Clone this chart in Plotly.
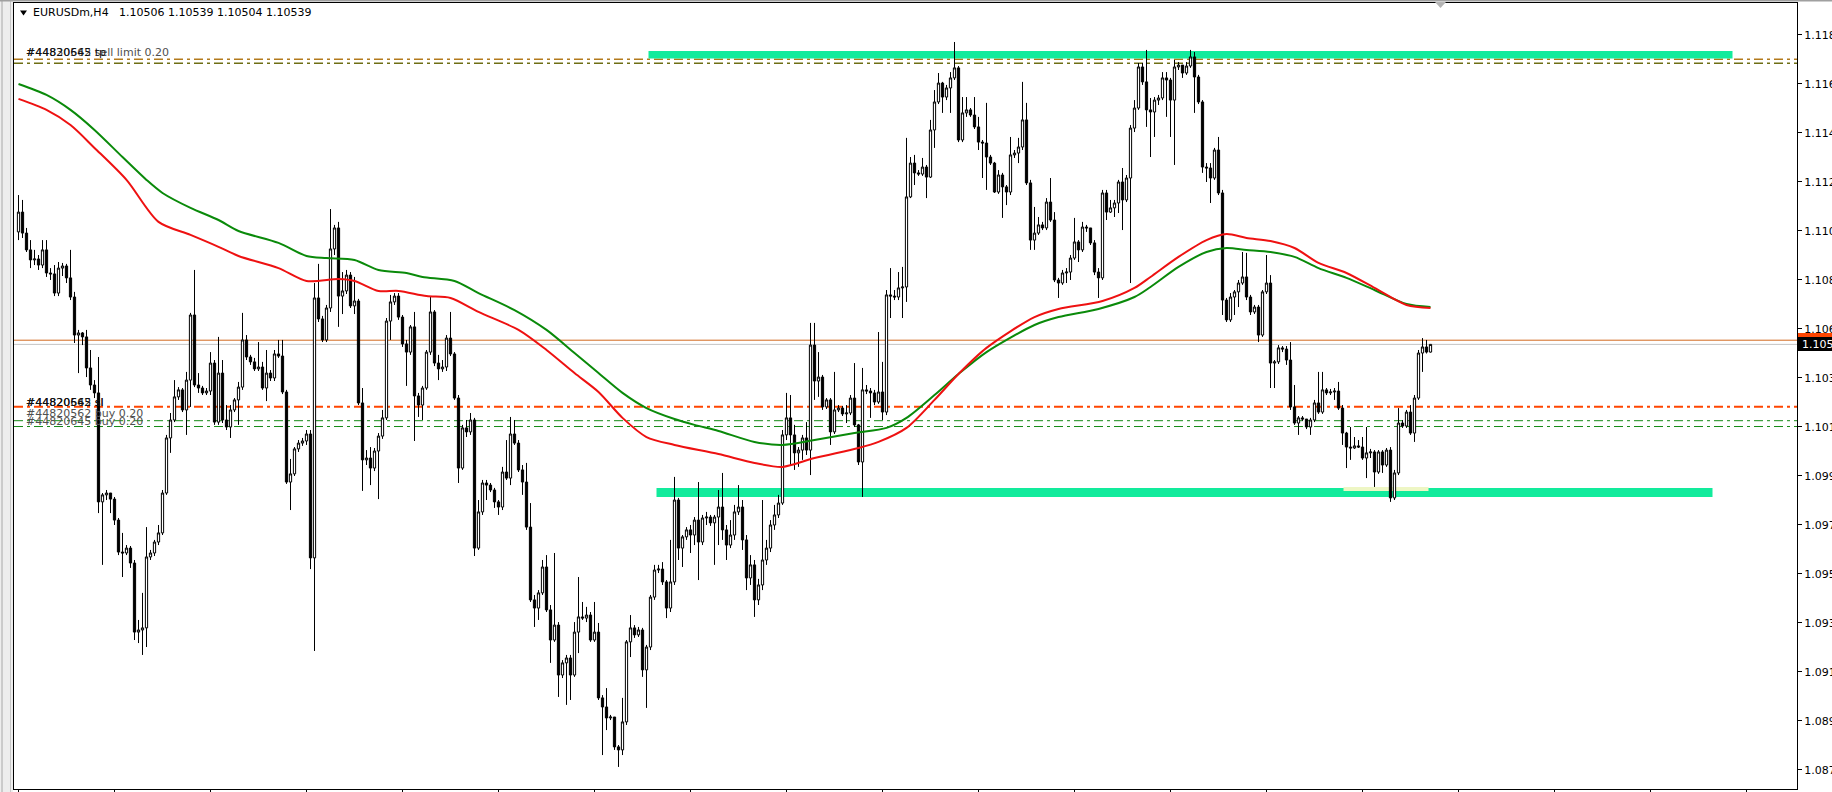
import plotly.graph_objects as go

# ---------------- data ----------------
symbol_title = "EURUSDm,H4"
last_ohlc = ["1.10506", "1.10539", "1.10504", "1.10539"]

first_open = 1.11021
closes = [
1.11106, 1.11016, 1.10944, 1.10901, 1.10905, 1.10879, 1.10944, 1.10845, 1.10841, 1.10759,
1.10866, 1.10875, 1.10824, 1.10742, 1.10579, 1.10588, 1.10571, 1.10438, 1.10365, 1.10331,
1.09864, 1.09894, 1.09902, 1.09876, 1.09786, 1.09649, 1.09645, 1.09666, 1.09602, 1.09306,
1.09315, 1.09324, 1.09628, 1.09645, 1.09692, 1.09731, 1.09902, 1.10138, 1.10215, 1.10314,
1.10344, 1.10258, 1.10386, 1.10665, 1.10365, 1.10352, 1.10331, 1.10339, 1.10459, 1.10206,
1.10416, 1.10215, 1.10185, 1.10258, 1.10301, 1.10356, 1.10558, 1.10485, 1.10464, 1.10434,
1.10442, 1.10352, 1.10416, 1.10395, 1.10498, 1.10489, 1.10335, 1.09949, 1.09984, 1.10091,
1.10116, 1.10125, 1.10155, 1.09624, 1.10738, 1.10648, 1.10558, 1.10695, 1.10948, 1.11038,
1.10746, 1.10768, 1.10836, 1.10704, 1.10725, 1.10288, 1.10044, 1.10052, 1.10009, 1.10082,
1.10146, 1.10224, 1.10639, 1.10721, 1.10746, 1.10656, 1.10541, 1.10506, 1.10614, 1.10318,
1.10279, 1.10352, 1.10506, 1.10678, 1.10459, 1.10434, 1.10442, 1.10566, 1.10498, 1.10309,
1.10009, 1.10181, 1.10164, 1.10215, 1.09666, 1.09821, 1.09945, 1.09936, 1.09915, 1.09864,
1.09842, 1.09992, 1.09966, 1.10155, 1.10116, 1.10001, 1.09949, 1.09756, 1.09444, 1.09409,
1.09474, 1.09585, 1.09401, 1.09272, 1.09336, 1.09122, 1.09174, 1.09195, 1.09122, 1.09306,
1.09371, 1.09366, 1.09379, 1.09272, 1.09306, 1.09024, 1.08985, 1.08938, 1.08942, 1.08814,
1.08801, 1.08921, 1.09264, 1.09324, 1.09294, 1.09315, 1.09144, 1.09242, 1.09456, 1.09572,
1.09576, 1.09521, 1.09409, 1.09521, 1.09872, 1.09666, 1.09714, 1.09744, 1.09722, 1.09786,
1.09692, 1.09795, 1.09799, 1.09774, 1.09799, 1.09842, 1.09744, 1.09679, 1.09722, 1.09821,
1.09842, 1.09701, 1.09538, 1.09594, 1.09444, 1.09508, 1.09615, 1.09666, 1.09765, 1.09808,
1.09859, 1.10151, 1.10224, 1.10151, 1.10074, 1.10086, 1.10138, 1.10086, 1.10536, 1.10382,
1.10399, 1.10271, 1.10301, 1.10164, 1.10258, 1.10266, 1.10241, 1.10245, 1.10309, 1.10194,
1.10035, 1.10344, 1.10339, 1.10331, 1.10292, 1.10335, 1.10249, 1.10751, 1.10746, 1.10742,
1.10781, 1.10785, 1.11171, 1.11316, 1.11274, 1.11269, 1.11299, 1.11256, 1.11458, 1.11578,
1.11659, 1.11599, 1.11638, 1.11681, 1.11724, 1.11415, 1.11531, 1.11544, 1.11522, 1.11471,
1.11406, 1.11402, 1.11342, 1.11316, 1.11192, 1.11265, 1.11214, 1.11192, 1.11351, 1.11359,
1.11385, 1.11501, 1.11231, 1.10986, 1.11016, 1.11051, 1.11038, 1.11149, 1.11072, 1.10815,
1.10802, 1.10845, 1.10849, 1.10909, 1.10978, 1.10944, 1.11042, 1.11038, 1.10974, 1.10849,
1.10824, 1.11188, 1.11106, 1.11124, 1.11145, 1.11235, 1.11158, 1.11252, 1.11466, 1.11552,
1.11728, 1.11664, 1.11544, 1.11535, 1.11586, 1.11595, 1.11681, 1.11672, 1.11586, 1.11728,
1.11736, 1.11702, 1.11732, 1.11771, 1.11685, 1.11578, 1.11299, 1.11295, 1.11252, 1.11372,
1.11188, 1.10729, 1.10644, 1.10742, 1.10764, 1.10802, 1.10828, 1.10742, 1.10678, 1.10699,
1.10579, 1.10764, 1.10802, 1.10459, 1.10464, 1.10524, 1.10519, 1.10472, 1.10271, 1.10202,
1.10224, 1.10219, 1.10185, 1.10215, 1.10288, 1.10249, 1.10344, 1.10331, 1.10335, 1.10339,
1.10266, 1.10159, 1.10099, 1.10095, 1.10104, 1.10099, 1.10052, 1.10074, 1.10078, 1.09992,
1.10078, 1.10022, 1.10086, 1.09881, 1.09988, 1.10202, 1.10189, 1.10249, 1.10159, 1.10309,
1.10502, 1.10528, 1.10506, 1.10539]
highs = [
1.11179, 1.11158, 1.11038, 1.10986, 1.10944, 1.10922, 1.10986, 1.10986, 1.10866, 1.10879,
1.10892, 1.10888, 1.10884, 1.10944, 1.10764, 1.10601, 1.10592, 1.10601, 1.10515, 1.10386,
1.10485, 1.09902, 1.09915, 1.09902, 1.09885, 1.09795, 1.09731, 1.09679, 1.09675, 1.09615,
1.09358, 1.09474, 1.09756, 1.09658, 1.09701, 1.09765, 1.09915, 1.10151, 1.10245, 1.10386,
1.10356, 1.10352, 1.10421, 1.10674, 1.10858, 1.10416, 1.10361, 1.10352, 1.10506, 1.10472,
1.10571, 1.10472, 1.10279, 1.10279, 1.10309, 1.10378, 1.10674, 1.10579, 1.10494, 1.10481,
1.10549, 1.10464, 1.10515, 1.10429, 1.10515, 1.10558, 1.10558, 1.10344, 1.10048, 1.10099,
1.10129, 1.10138, 1.10172, 1.10172, 1.10802, 1.10884, 1.10661, 1.10708, 1.11119, 1.11051,
1.11064, 1.10849, 1.10858, 1.10849, 1.10828, 1.10734, 1.10352, 1.10086, 1.10099, 1.10095,
1.10159, 1.10258, 1.10652, 1.10751, 1.10759, 1.10759, 1.10665, 1.10558, 1.10622, 1.10678,
1.10331, 1.10361, 1.10515, 1.10746, 1.10686, 1.10494, 1.10472, 1.10579, 1.10678, 1.10506,
1.10322, 1.10194, 1.10215, 1.10245, 1.10224, 1.09872, 1.09958, 1.09958, 1.09945, 1.09924,
1.09872, 1.10014, 1.10129, 1.10228, 1.10215, 1.10129, 1.10022, 1.10031, 1.09859, 1.09465,
1.09486, 1.09615, 1.09636, 1.09422, 1.09645, 1.09349, 1.09186, 1.09208, 1.09208, 1.09349,
1.09542, 1.09435, 1.09414, 1.09392, 1.09435, 1.09345, 1.09036, 1.09066, 1.08951, 1.08942,
1.08822, 1.09024, 1.09272, 1.09379, 1.09336, 1.09328, 1.09324, 1.09251, 1.09465, 1.09594,
1.09594, 1.09606, 1.09529, 1.09701, 1.09971, 1.09881, 1.09722, 1.09756, 1.09765, 1.09799,
1.09949, 1.09808, 1.09821, 1.09808, 1.09808, 1.09915, 1.09988, 1.09765, 1.09786, 1.09851,
1.09936, 1.09872, 1.09722, 1.09636, 1.09615, 1.09534, 1.09872, 1.09701, 1.09786, 1.09851,
1.09894, 1.10172, 1.10331, 1.10322, 1.10194, 1.10099, 1.10151, 1.10206, 1.10631, 1.10631,
1.10506, 1.10408, 1.10309, 1.10309, 1.10421, 1.10279, 1.10275, 1.10279, 1.10322, 1.10459,
1.10198, 1.10438, 1.10365, 1.10352, 1.10344, 1.10592, 1.10464, 1.10772, 1.10866, 1.10772,
1.10849, 1.10871, 1.11424, 1.11342, 1.11351, 1.11286, 1.11338, 1.11308, 1.11501, 1.11629,
1.11702, 1.11664, 1.11651, 1.11706, 1.11835, 1.11732, 1.11599, 1.11599, 1.11552, 1.11599,
1.11514, 1.11415, 1.11574, 1.11351, 1.11321, 1.11286, 1.11274, 1.11222, 1.11428, 1.11372,
1.11424, 1.11664, 1.11574, 1.11244, 1.11128, 1.11085, 1.11064, 1.11166, 1.11252, 1.11106,
1.10824, 1.10858, 1.10866, 1.10922, 1.11081, 1.10986, 1.11064, 1.11051, 1.11038, 1.10986,
1.10866, 1.11201, 1.11201, 1.11158, 1.11158, 1.11244, 1.11295, 1.11265, 1.11479, 1.11586,
1.11745, 1.11745, 1.11801, 1.11595, 1.11599, 1.11608, 1.11706, 1.11706, 1.11681, 1.11758,
1.11749, 1.11715, 1.11749, 1.11801, 1.11792, 1.11694, 1.11586, 1.11316, 1.11316, 1.11381,
1.11428, 1.11201, 1.10738, 1.10759, 1.10772, 1.10815, 1.10935, 1.10931, 1.10751, 1.10708,
1.10708, 1.10772, 1.10922, 1.10836, 1.10472, 1.10536, 1.10532, 1.10532, 1.10549, 1.10365,
1.10232, 1.10232, 1.10215, 1.10224, 1.10301, 1.10421, 1.10421, 1.10352, 1.10348, 1.10352,
1.10378, 1.10279, 1.10164, 1.10185, 1.10142, 1.10129, 1.10142, 1.10185, 1.10091, 1.10086,
1.10086, 1.10086, 1.10095, 1.10099, 1.10001, 1.10266, 1.10215, 1.10258, 1.10279, 1.10322,
1.10515, 1.10566, 1.10558, 1.10539]
lows = [
1.10986, 1.10995, 1.10935, 1.10866, 1.10879, 1.10858, 1.10866, 1.10828, 1.10815, 1.10746,
1.10746, 1.10832, 1.10802, 1.10729, 1.10545, 1.10416, 1.10536, 1.10399, 1.10344, 1.10309,
1.09816, 1.09594, 1.09872, 1.09816, 1.09765, 1.09636, 1.09542, 1.09636, 1.09581, 1.09272,
1.09259, 1.09208, 1.09242, 1.09615, 1.09632, 1.09679, 1.09722, 1.09894, 1.10074, 1.10206,
1.10301, 1.10249, 1.10151, 1.10271, 1.10356, 1.10331, 1.10322, 1.10322, 1.10322, 1.10194,
1.10194, 1.10202, 1.10172, 1.10138, 1.10249, 1.10194, 1.10344, 1.10472, 1.10451, 1.10425,
1.10425, 1.10344, 1.10296, 1.10382, 1.10382, 1.10481, 1.10326, 1.09941, 1.09829, 1.09975,
1.10078, 1.10104, 1.10108, 1.09576, 1.09225, 1.10635, 1.10549, 1.10549, 1.10678, 1.10922,
1.10614, 1.10669, 1.10755, 1.10695, 1.10669, 1.10279, 1.09911, 1.10022, 1.09936, 1.09996,
1.09876, 1.10134, 1.10215, 1.10558, 1.10708, 1.10644, 1.10528, 1.10361, 1.10494, 1.10125,
1.10228, 1.10215, 1.10344, 1.10494, 1.10446, 1.10386, 1.10421, 1.10425, 1.10489, 1.10301,
1.09945, 1.10001, 1.10142, 1.10151, 1.09632, 1.09658, 1.09808, 1.09872, 1.09906, 1.09838,
1.09808, 1.09829, 1.09958, 1.09936, 1.10108, 1.09992, 1.09894, 1.09744, 1.09435, 1.09328,
1.09358, 1.09465, 1.09392, 1.09174, 1.09264, 1.09028, 1.09109, 1.08994, 1.09015, 1.09114,
1.09216, 1.09358, 1.09349, 1.09264, 1.09264, 1.09015, 1.08779, 1.08886, 1.08929, 1.08801,
1.08728, 1.08779, 1.08908, 1.09199, 1.09281, 1.09285, 1.09114, 1.08981, 1.09229, 1.09444,
1.09559, 1.09508, 1.09366, 1.09392, 1.09508, 1.09615, 1.09585, 1.09701, 1.09645, 1.09679,
1.09529, 1.09679, 1.09765, 1.09761, 1.09594, 1.09679, 1.09701, 1.09615, 1.09666, 1.09701,
1.09808, 1.09658, 1.09486, 1.09508, 1.09371, 1.09422, 1.09486, 1.09594, 1.09649, 1.09744,
1.09795, 1.09851, 1.10129, 1.10022, 1.10001, 1.10014, 1.10044, 1.10065, 1.09979, 1.10301,
1.10314, 1.10258, 1.10262, 1.10108, 1.10155, 1.10249, 1.10232, 1.10202, 1.10236, 1.10185,
1.10022, 1.09885, 1.10326, 1.10224, 1.10279, 1.10284, 1.10215, 1.10236, 1.10652, 1.10729,
1.10729, 1.10652, 1.10721, 1.11166, 1.11222, 1.11261, 1.11261, 1.11166, 1.11252, 1.11381,
1.11569, 1.11531, 1.11586, 1.11531, 1.11672, 1.11406, 1.11406, 1.11514, 1.11514, 1.11462,
1.11372, 1.11252, 1.11201, 1.11308, 1.11188, 1.11184, 1.11081, 1.11136, 1.11179, 1.11338,
1.11316, 1.11372, 1.11222, 1.10944, 1.10944, 1.11008, 1.11029, 1.11029, 1.11064, 1.10806,
1.10738, 1.10794, 1.10802, 1.10815, 1.10901, 1.10892, 1.10935, 1.11021, 1.10965, 1.10836,
1.10738, 1.10815, 1.11072, 1.11102, 1.11085, 1.11102, 1.11029, 1.11149, 1.10802, 1.11449,
1.11544, 1.11651, 1.11471, 1.11342, 1.11428, 1.11565, 1.11586, 1.11514, 1.11428, 1.11308,
1.11715, 1.11681, 1.11694, 1.11724, 1.11531, 1.11569, 1.11274, 1.11235, 1.11145, 1.11244,
1.11179, 1.10665, 1.10635, 1.10635, 1.10665, 1.10699, 1.10794, 1.10729, 1.10665, 1.10669,
1.10549, 1.10571, 1.10755, 1.10352, 1.10352, 1.10455, 1.10506, 1.10451, 1.10258, 1.10194,
1.10151, 1.10211, 1.10176, 1.10151, 1.10206, 1.10241, 1.10241, 1.10322, 1.10322, 1.10301,
1.10258, 1.10108, 1.10009, 1.10044, 1.10091, 1.10095, 1.10044, 1.09966, 1.10052, 1.09928,
1.09984, 1.09988, 1.10014, 1.09864, 1.09872, 1.09979, 1.10181, 1.10181, 1.10151, 1.10121,
1.10301, 1.10421, 1.10500, 1.10504]

# moving averages (red and green), read at sample bars
ma_red_bar = [0, 7, 13, 19, 27, 35, 43, 50, 55, 65, 72, 80, 84, 90, 95, 102, 108, 115, 125, 132,
              139, 145, 151, 157, 164, 175, 184, 191, 199, 210, 215, 222, 229, 235, 242, 254, 260,
              271, 279, 283, 290, 297, 302, 307, 313, 319, 325, 332, 339, 347, 353]
ma_red = [1.11591, 1.11544, 1.11479, 1.11381, 1.11244, 1.11064, 1.11008, 1.10957, 1.10918, 1.10866,
          1.10811, 1.10819, 1.10811, 1.10768, 1.10768, 1.10746, 1.10738, 1.10678, 1.10601, 1.10515,
          1.10416, 1.10335, 1.10224, 1.10142, 1.10108, 1.10069, 1.10031, 1.10014, 1.10052, 1.10095,
          1.10121, 1.10181, 1.10301, 1.10412, 1.10524, 1.10656, 1.10691, 1.10725, 1.10781, 1.10828,
          1.10914, 1.10986, 1.11012, 1.10995, 1.10982, 1.10952, 1.10888, 1.10845, 1.10781, 1.10708,
          1.10695]
ma_green_bar = [0, 7, 13, 19, 26, 32, 36, 43, 50, 55, 65, 72, 77, 84, 90, 97, 101, 109, 115, 124, 132,
                139, 145, 151, 157, 164, 169, 175, 184, 191, 199, 209, 217, 222, 229, 235, 242, 254,
                260, 270, 279, 283, 290, 297, 302, 307, 313, 319, 325, 332, 339, 347, 353]
ma_green = [1.11655, 1.11608, 1.11544, 1.11458, 1.11342, 1.11244, 1.11188, 1.11124, 1.11072, 1.11025,
            1.10974, 1.10918, 1.10909, 1.10901, 1.10858, 1.10845, 1.10828, 1.10811, 1.10759, 1.10686,
            1.10601, 1.10502, 1.10416, 1.10331, 1.10266, 1.10219, 1.10194, 1.10168, 1.10121, 1.10108,
            1.10129, 1.10159, 1.10181, 1.10224, 1.10322, 1.10412, 1.10506, 1.10622, 1.10656, 1.10691,
            1.10742, 1.10785, 1.10871, 1.10935, 1.10952, 1.10944, 1.10935, 1.10914, 1.10866, 1.10824,
            1.10772, 1.10712, 1.10699]

price_ticks = [1.11865, 1.11655, 1.11445, 1.11235, 1.11025, 1.10815, 1.10605, 1.10395,
               1.10185, 1.09975, 1.09765, 1.09555, 1.09345, 1.09135, 1.08925, 1.08715]
time_tick_bars = [0, 24, 48, 72, 96, 120, 144, 168, 192, 216, 240, 264, 288, 312, 336, 360, 384, 408, 432]

# zones (rectangles) and order lines
upper_zone_bars, upper_zone = (157.5, 428.5), (1.11764, 1.11796)
lower_zone_bars, lower_zone = (159.5, 423.5), (1.09885, 1.09924)
touch_zone_bars, touch_zone = (331.25, 352.5), (1.09911, 1.09928)
tp_price = 1.11761
sell_limit_price = 1.11744
sl_price = 1.10272
buy_prices = [1.10212, 1.10187]
bid_price = 1.10539
ask_price = 1.10557

# ---------------- geometry ----------------
W, H = 1832, 792
ML, MR, MT, MB = 14, 35, 3, 3
PW, PH = W - ML - MR, H - MT - MB
X_RANGE = [-1.125, 444.625]
Y_RANGE = [1.086335, 1.120021]


def pxx(x):
    return (x - ML) / PW


def pyy(y):
    return (H - MB - y) / PH


FONT = "DejaVu Sans"

opens = [first_open] + closes[:-1]
highs = [max(h, o, c) for h, o, c in zip(highs, opens, closes)]
lows = [min(l, o, c) for l, o, c in zip(lows, opens, closes)]
bars = list(range(len(closes)))

fig = go.Figure()

fig.add_trace(go.Candlestick(
    x=bars, open=opens, high=highs, low=lows, close=closes,
    increasing=dict(line=dict(color="black", width=1), fillcolor="white"),
    decreasing=dict(line=dict(color="black", width=1), fillcolor="black"),
    whiskerwidth=0, hoverinfo="skip", showlegend=False))

fig.add_trace(go.Scatter(x=ma_green_bar, y=ma_green, mode="lines",
                         line=dict(color="#0a8a0a", width=2, shape="spline", smoothing=0.8),
                         hoverinfo="skip", showlegend=False))
fig.add_trace(go.Scatter(x=ma_red_bar, y=ma_red, mode="lines",
                         line=dict(color="#ee1111", width=2, shape="spline", smoothing=0.8),
                         hoverinfo="skip", showlegend=False))

shapes = []
zone_color = "#12eb9c"
shapes.append(dict(type="rect", xref="x", yref="y", x0=upper_zone_bars[0], x1=upper_zone_bars[1],
                   y0=upper_zone[0], y1=upper_zone[1], fillcolor=zone_color, line=dict(width=0),
                   layer="below"))
shapes.append(dict(type="rect", xref="x", yref="y", x0=lower_zone_bars[0], x1=lower_zone_bars[1],
                   y0=lower_zone[0], y1=lower_zone[1], fillcolor=zone_color, line=dict(width=0),
                   layer="below"))
shapes.append(dict(type="rect", xref="x", yref="y", x0=touch_zone_bars[0], x1=touch_zone_bars[1],
                   y0=touch_zone[0], y1=touch_zone[1], fillcolor="#eef6c4", line=dict(width=0),
                   layer="below"))

DASHDOT = "9px,4px,3px,4px"


def hline(price, color, width, dash=None):
    ln = dict(color=color, width=width)
    if dash:
        ln["dash"] = dash
    return dict(type="line", xref="paper", yref="y", x0=0, x1=1, y0=price, y1=price,
                line=ln, layer="below")


shapes.append(hline(bid_price, "#c4c4c4", 1))
shapes.append(hline(ask_price, "#d2691e", 1))
shapes.append(hline(tp_price, "#b37a1c", 1.5, DASHDOT))
shapes.append(hline(sell_limit_price, "#6e6e14", 1.5, DASHDOT))
shapes.append(hline(sl_price, "#ff4500", 2, DASHDOT))
for bp in buy_prices:
    shapes.append(hline(bp, "#168a16", 1, DASHDOT))

# window decorations
shapes.append(dict(type="rect", xref="paper", yref="paper", x0=pxx(0), x1=pxx(13),
                   y0=pyy(H), y1=pyy(0), fillcolor="#ededed", line=dict(width=0), layer="above"))
shapes.append(dict(type="line", xref="paper", yref="paper", x0=pxx(2), x1=pxx(2),
                   y0=pyy(H), y1=pyy(0), line=dict(color="#a8a8a8", width=1), layer="above"))
shapes.append(dict(type="line", xref="paper", yref="paper", x0=pxx(10.5), x1=pxx(10.5),
                   y0=pyy(H), y1=pyy(0), line=dict(color="#c8c8c8", width=1), layer="above"))
shapes.append(dict(type="rect", xref="paper", yref="paper", x0=pxx(0), x1=pxx(W),
                   y0=pyy(1.5), y1=pyy(0), fillcolor="#a0a0a0", line=dict(width=0), layer="above"))
# chart-shift marker
shapes.append(dict(type="path", xref="paper", yref="paper",
                   path="M {a},{b} L {c},{b} L {d},{e} Z".format(a=pxx(1435), c=pxx(1446), d=pxx(1440.5),
                                                              b=pyy(2), e=pyy(8)),
                   fillcolor="#b4b4b4", line=dict(width=0), layer="above"))
# title triangle
shapes.append(dict(type="path", xref="paper", yref="paper",
                   path="M {a},{b} L {c},{b} L {d},{e} Z".format(a=pxx(20), c=pxx(27), d=pxx(23.5),
                                                              b=pyy(10.5), e=pyy(15.5)),
                   fillcolor="black", line=dict(width=0), layer="above"))
# price labels on the axis (ask behind, bid in front)
shapes.append(dict(type="rect", xref="paper", yref="paper", x0=pxx(1798), x1=pxx(W + 2),
                   y0=pyy(347), y1=pyy(333), fillcolor="#ff4500", line=dict(width=0), layer="above"))
shapes.append(dict(type="rect", xref="paper", yref="paper", x0=pxx(1798), x1=pxx(W + 2),
                   y0=pyy(351), y1=pyy(337), fillcolor="black", line=dict(width=0), layer="above"))

annotations = []


def label(text, xp, yp, color="black", size=11):
    annotations.append(dict(text=text, xref="paper", yref="paper", x=pxx(xp), y=pyy(yp),
                            xanchor="left", yanchor="middle", showarrow=False,
                            font=dict(family=FONT, size=size, color=color)))


label(symbol_title + "\u00a0\u00a0 " + " ".join(last_ohlc), 31, 13)
label("#44830562 sell limit 0.20", 24, 53, "#505050")
label("#44820645 tp", 24, 53, "#111111")
label("#44820562 sl", 24, 402, "#111111")
label("#44820645 sl", 24, 402, "#111111")
label("#44820562 buy 0.20", 24, 414, "#505050")
label("#44820645 buy 0.20", 24, 421.5, "#505050")
label("{:.5f}".format(bid_price), 1800, 344, "white")

fig.update_layout(
    width=W, height=H,
    margin=dict(l=ML, r=MR, t=MT, b=MB, autoexpand=False),
    paper_bgcolor="white", plot_bgcolor="white",
    showlegend=False, hovermode=False,
    boxgap=0.2, boxgroupgap=0.3,
    shapes=shapes, annotations=annotations,
    xaxis=dict(range=X_RANGE, showgrid=False, zeroline=False, showline=True, linecolor="black",
               linewidth=1, mirror=True, ticks="outside", ticklen=5, tickcolor="black",
               tickvals=time_tick_bars, showticklabels=False, rangeslider=dict(visible=False),
               fixedrange=True),
    yaxis=dict(range=Y_RANGE, side="right", showgrid=False, zeroline=False, showline=True,
               linecolor="black", linewidth=1, mirror=True, ticks="outside", ticklen=4,
               tickcolor="black", tickvals=price_ticks,
               ticktext=["{:.5f}".format(v) for v in price_ticks],
               tickfont=dict(family=FONT, size=11, color="black"), fixedrange=True),
)

fig.write_html("out.html", config={"displayModeBar": False},
               post_script="document.body.style.margin='0';document.body.style.overflow='hidden';")
